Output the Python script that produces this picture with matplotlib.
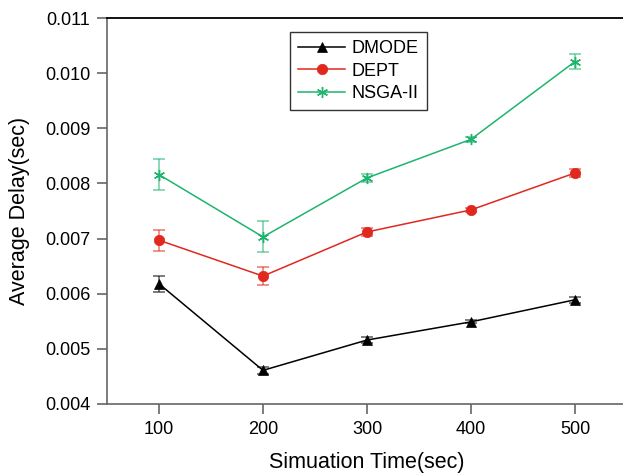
import numpy as np
import matplotlib
matplotlib.use('Agg')
import matplotlib.pyplot as plt
from matplotlib.ticker import FormatStrFormatter

plt.rcParams['font.family'] = ['Liberation Sans', 'DejaVu Sans']

sim_time = [100, 200, 300, 400, 500]

dmode = [0.00618, 0.00461, 0.00516, 0.00549, 0.00589]
dmode_err = [0.00015, 0.00006, 0.00005, 0.00003, 0.00005]

dept = [0.00697, 0.00632, 0.00712, 0.00752, 0.00819]
dept_err = [0.00019, 0.00016, 0.00007, 0.00004, 0.00008]

nsga = [0.00816, 0.00703, 0.00810, 0.00880, 0.01021]
nsga_err = [0.00028, 0.00028, 0.00008, 0.00005, 0.00013]

series = [
    ('DMODE', dmode, dmode_err, 'black', '^'),
    ('DEPT', dept, dept_err, '#e0281e', 'o'),
    ('NSGA-II', nsga, nsga_err, '#1fb46e', (6, 2, 0)),
]

fig = plt.figure(figsize=(6.23, 4.76), dpi=100)
ax = fig.add_axes([107 / 623, 1 - 404 / 476, 520 / 623, 386 / 476])

handles = []
for name, v, e, c, m in series:
    ax.errorbar(sim_time, v, yerr=e, fmt='none', ecolor=c, alpha=0.55,
                elinewidth=1.3, capsize=4, capthick=1.3, zorder=2)
    h, = ax.plot(sim_time, v, color=c, lw=1.1, marker=m,
                 markersize=8 if name == 'NSGA-II' else 7.5,
                 markeredgewidth=1.0 if name == 'NSGA-II' else 0.5,
                 markeredgecolor=c, zorder=3)
    handles.append(h)

ax.set_xlim(50, 550)
ax.set_ylim(0.004, 0.011)
ax.set_xticks(sim_time)
ax.set_yticks(np.arange(0.004, 0.0111, 0.001))
ax.yaxis.set_major_formatter(FormatStrFormatter('%.3f'))

ax.spines['right'].set_visible(False)
ax.spines['top'].set_color('black')
ax.spines['top'].set_linewidth(1.3)
for s in ('left', 'bottom'):
    ax.spines[s].set_color('#666666')
    ax.spines[s].set_linewidth(1.2)
ax.tick_params(direction='out', length=7, width=1.2, color='#666666',
               labelsize=13, pad=5)

ax.set_xlabel('Simuation Time(sec)', fontsize=15.5, labelpad=10)
ax.set_ylabel('Average Delay(sec)', fontsize=15.5, labelpad=11)

# legend box sits at about (290, 32) px in the original
leg = ax.legend(handles, [s[0] for s in series], loc='upper left',
                bbox_to_anchor=((290 - 107) / 520, (404 - 32) / 386),
                borderaxespad=0, fontsize=13, frameon=True, fancybox=False,
                edgecolor='black', handlelength=2.6, borderpad=0.45,
                labelspacing=0.3, handletextpad=0.35)
leg.get_frame().set_linewidth(1.0)

fig.savefig('out.png', dpi=100)
